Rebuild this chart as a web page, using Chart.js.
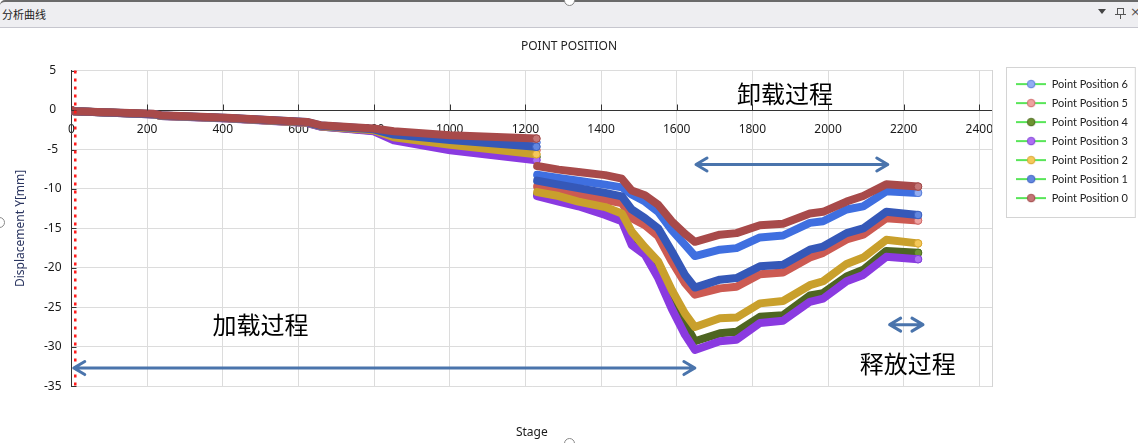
<!DOCTYPE html>
<html>
<head>
<meta charset="utf-8">
<script src="https://cdn.jsdelivr.net/npm/chart.js@4.4.1/dist/chart.umd.min.js"></script>
<style>
    html, body { margin: 0; padding: 0; background: #fff; overflow: hidden; }
    #wrap { position: relative; width: 1138px; height: 443px; }
    #chart { position: absolute; left: 0; top: 0; }
    #bar {
        position: absolute; left: 0; top: 0; width: 1138px; height: 25px;
        background: #eeeef1; border-top: 2px solid #6a6a6a; border-bottom: 1px solid #c6c6ce;
        border-top-left-radius: 5px;
        font: 11px 'Noto Sans CJK SC', sans-serif; color: #222;
    }
    #bar .name { position: absolute; left: 2px; top: 4px; }
    #bar .drop { position: absolute; left: 1098px; top: 7px; width: 0; height: 0;
        border-left: 4px solid transparent; border-right: 4px solid transparent; border-top: 5px solid #444; }
    #bar .pin { position: absolute; left: 1117px; top: 6px; width: 5px; height: 5px; border: 1px solid #555; border-bottom: none; }
    #bar .pin:after { content: ''; position: absolute; left: -3px; top: 5px; width: 11px; height: 1px; background: #555; }
    #bar .pin:before { content: ''; position: absolute; left: 2px; top: 5px; width: 1px; height: 5px; background: #555; }
    #bar .close { position: absolute; left: 1130px; top: 2px; font: 13px 'DejaVu Sans', sans-serif; color: #555; }
    .grip { position: absolute; width: 9px; height: 9px; border-radius: 50%; background: #fff; border: 1px solid #888; }
</style>
</head>
<body>
<div id="wrap">
    <canvas id="chart" width="1138" height="443"></canvas>
    <div id="bar"><span class="name">分析曲线</span><span class="drop"></span><span class="pin"></span><span class="close">×</span></div>
    <div class="grip" style="left:564px;top:-5px;"></div>
    <div class="grip" style="left:-6px;top:217px;"></div>
    <div class="grip" style="left:564px;top:438px;"></div>
</div>
<script>
//#region Data

const stages = [0, 7, 218, 236, 412, 623, 658, 799, 852, 1001, 1229,
    1231, 1288, 1340, 1411, 1455, 1481, 1516, 1551, 1587, 1622, 1648,
    1714, 1758, 1820, 1881, 1952, 1987, 2049, 2093, 2154, 2238];

const pp0 = [0, -0.14, -0.48, -0.65, -0.99, -1.5, -1.92, -2.34, -2.68, -3.19, -3.62,
    -7.1, -7.55, -7.85, -8.25, -8.7, -10.2, -10.8, -12.0, -14.1, -15.7, -16.7,
    -15.8, -15.6, -14.6, -14.4, -13.1, -12.9, -11.6, -10.9, -9.4, -9.7];
const pp1 = [0, -0.15, -0.52, -0.7, -1.02, -1.55, -2.0, -2.45, -3.1, -3.8, -4.65,
    -8.95, -9.45, -9.9, -10.5, -10.95, -12.6, -13.7, -15.0, -17.9, -20.9, -22.5,
    -21.5, -21.3, -19.8, -19.6, -17.7, -17.3, -15.6, -15.0, -12.9, -13.3];
const pp2 = [0, -0.15, -0.54, -0.73, -1.04, -1.6, -2.05, -2.55, -3.45, -4.4, -5.6,
    -10.4, -10.9, -11.6, -12.3, -13.1, -15.4, -17.4, -19.2, -22.8, -25.8, -27.5,
    -26.4, -26.3, -24.5, -24.2, -22.2, -21.7, -19.5, -18.7, -16.45, -16.9];
const pp3 = [0, -0.16, -0.56, -0.75, -1.06, -1.65, -2.1, -2.7, -3.85, -5.1, -6.35,
    -10.9, -11.6, -12.2, -13.3, -14.1, -17.1, -18.35, -21.3, -25.2, -28.5, -30.4,
    -29.3, -29.1, -27.0, -26.7, -24.3, -23.9, -21.7, -20.9, -18.6, -18.9];
const pp4 = [0, -0.15, -0.55, -0.74, -1.05, -1.62, -2.08, -2.62, -3.65, -4.75, -5.95,
    -10.7, -11.3, -11.9, -12.8, -13.6, -16.3, -17.9, -20.3, -24.0, -27.0, -29.3,
    -28.3, -28.1, -26.2, -26.0, -23.5, -23.2, -21.1, -20.25, -17.85, -18.1];
const pp5 = [0, -0.15, -0.53, -0.72, -1.03, -1.58, -2.03, -2.5, -3.3, -4.1, -5.1,
    -9.67, -10.2, -10.65, -11.4, -11.8, -13.7, -14.6, -16.0, -19.2, -21.95, -23.4,
    -22.6, -22.4, -20.8, -20.6, -18.7, -18.1, -16.4, -15.8, -13.7, -14.0];
const pp6 = [0, -0.14, -0.5, -0.68, -1.0, -1.52, -1.95, -2.4, -2.85, -3.45, -4.1,
    -8.2, -8.6, -8.95, -9.45, -9.8, -10.7, -11.6, -12.9, -15.2, -17.1, -18.5,
    -17.7, -17.5, -16.15, -15.9, -14.3, -14.1, -12.6, -12.2, -10.3, -10.5];

const seriesNames = ['Point Position 0', 'Point Position 1', 'Point Position 2', 'Point Position 3',
    'Point Position 4', 'Point Position 5', 'Point Position 6'];
const seriesValues = [pp0, pp1, pp2, pp3, pp4, pp5, pp6];

// index of the last loading point (the curves jump after it)
const loadEndIndex = 10;

const xTicks = [0, 200, 400, 600, 800, 1000, 1200, 1400, 1600, 1800, 2000, 2200, 2400];

// annotations (in stage / mm units)
const phaseLabels = ['加载过程', '卸载过程', '释放过程'];
const phaseLabelX = [500, 1886, 2211];
const phaseLabelY = [-27.2, 2.0, -32.2];
const arrowStart = [6, 1651, 2163];
const arrowEnd = [1648, 2158, 2251];
const arrowY = [-32.7, -6.9, -27.2];
const markerStage = 10;

//#endregion

//#region Styles

const lineColors = ['#a84a4a', '#3558b8', '#c9a02c', '#8a3ae0', '#4e6522', '#cc5a52', '#3f6fe0'];
const markerFill = ['#c47676', '#6287e0', '#f5c85a', '#ad70f2', '#6e9232', '#eea2a0', '#93adf2'];
const markerEdge = ['#a04848', '#3f62c0', '#d8a530', '#8040d8', '#4a6a1e', '#d06a6a', '#5a7fd8'];

// Legend icon: green line with a round marker.
function makeLegendIcon(i) {
    const c = document.createElement('canvas');
    c.width = 30;
    c.height = 10;
    const g = c.getContext('2d');
    g.strokeStyle = '#22dd22';
    g.lineWidth = 1.5;
    g.beginPath();
    g.moveTo(0, 5);
    g.lineTo(30, 5);
    g.stroke();
    g.fillStyle = markerFill[i];
    g.strokeStyle = markerEdge[i];
    g.lineWidth = 1;
    g.beginPath();
    g.arc(15, 5, 3.8, 0, Math.PI * 2);
    g.fill();
    g.stroke();
    return c;
}
const legendIcons = seriesNames.map((n, i) => makeLegendIcon(i));

//#endregion

//#region Plugins

function drawArrow(ctx, x1, x2, y) {
    const len = 11, half = 6.5;
    ctx.beginPath();
    ctx.moveTo(x1, y);
    ctx.lineTo(x2, y);
    ctx.moveTo(x1 + len, y - half);
    ctx.lineTo(x1, y);
    ctx.lineTo(x1 + len, y + half);
    ctx.moveTo(x2 - len, y - half);
    ctx.lineTo(x2, y);
    ctx.lineTo(x2 - len, y + half);
    ctx.stroke();
}

const annotationPlugin = {
    id: 'annotations',
    afterDatasetsDraw(chart) {
        const { ctx, scales: { x, y } } = chart;
        ctx.save();

        // small tick marks on the axes
        ctx.strokeStyle = '#333';
        ctx.lineWidth = 1;
        const y0 = Math.round(y.getPixelForValue(0)) + 0.5;
        const x0 = Math.round(x.getPixelForValue(0)) + 0.5;
        ctx.beginPath();
        xTicks.forEach(v => {
            const px = Math.round(x.getPixelForValue(v)) + 0.5;
            ctx.moveTo(px, y0);
            ctx.lineTo(px, y0 - 6);
        });
        for (let v = -35; v <= 5; v += 5) {
            const py = Math.round(y.getPixelForValue(v)) + 0.5;
            ctx.moveTo(x0, py);
            ctx.lineTo(x0 + 5, py);
        }
        ctx.stroke();

        // red dotted marker line
        ctx.strokeStyle = '#ff1a1a';
        ctx.lineWidth = 2.5;
        ctx.setLineDash([3, 5]);
        const mx = x.getPixelForValue(markerStage);
        ctx.beginPath();
        ctx.moveTo(mx, y.top);
        ctx.lineTo(mx, y.bottom);
        ctx.stroke();
        ctx.setLineDash([]);

        // arrows
        ctx.strokeStyle = '#4a74ac';
        ctx.lineWidth = 3;
        ctx.lineCap = 'round';
        ctx.lineJoin = 'round';
        arrowStart.forEach((s, i) => {
            drawArrow(ctx, x.getPixelForValue(s), x.getPixelForValue(arrowEnd[i]), y.getPixelForValue(arrowY[i]));
        });

        // phase labels
        ctx.fillStyle = '#000';
        ctx.font = "24px 'Noto Sans CJK SC'";
        ctx.textAlign = 'center';
        ctx.textBaseline = 'middle';
        phaseLabels.forEach((t, i) => {
            ctx.fillText(t, x.getPixelForValue(phaseLabelX[i]), y.getPixelForValue(phaseLabelY[i]));
        });
        ctx.restore();
    },
    afterDraw(chart) {
        // frame round the legend
        const boxes = chart.legend.legendHitBoxes;
        if (!boxes || !boxes.length) return;
        const ctx = chart.ctx;
        const top = Math.min(...boxes.map(b => b.top)) - 12;
        const bottom = Math.max(...boxes.map(b => b.top + b.height)) + 13;
        ctx.save();
        ctx.strokeStyle = '#d4d4d4';
        ctx.lineWidth = 1;
        ctx.strokeRect(Math.round(chart.legend.left) - 1.5, Math.round(top) + 0.5,
            chart.width - chart.legend.left - 1, Math.round(bottom - top));
        ctx.restore();
    }
};

//#endregion

//#region Chart

Chart.defaults.font.family = "'Noto Sans', sans-serif";
Chart.defaults.color = '#1a1a1a';

const datasets = seriesNames.map((name, i) => ({
    label: name,
    data: stages.map((s, k) => ({ x: s, y: seriesValues[i][k] })),
    borderColor: lineColors[i],
    borderWidth: 8,
    borderJoinStyle: 'round',
    borderCapStyle: 'round',
    tension: 0,
    pointRadius: ctx => (ctx.dataIndex === loadEndIndex || ctx.dataIndex === stages.length - 1) ? 3.8 : 0,
    pointBackgroundColor: markerFill[i],
    pointBorderColor: markerEdge[i],
    pointBorderWidth: 1,
    segment: {
        borderColor: ctx => ctx.p0DataIndex === loadEndIndex ? 'rgba(0,0,0,0)' : undefined
    }
}));

const gridColor = '#dcdcdc';

const config = {
    type: 'line',
    data: { datasets: datasets },
    options: {
        responsive: false,
        animation: false,
        events: [],
        layout: { padding: { top: 28, left: 0, right: 0, bottom: 0 } },
        plugins: {
            title: {
                display: true,
                text: 'POINT POSITION',
                color: '#222',
                font: { size: 12, weight: 'normal' },
                padding: { top: 11.5, bottom: 16.7 }
            },
            legend: {
                position: 'right',
                align: 'start',
                fullSize: false,
                reverse: true,
                labels: {
                    usePointStyle: true,
                    pointStyleWidth: 30,
                    padding: 8,
                    color: '#222',
                    font: { family: 'Lato', size: 11 },
                    generateLabels: chart => chart.data.datasets.map((ds, i) => ({
                        text: ds.label,
                        pointStyle: legendIcons[i],
                        datasetIndex: i,
                        hidden: false,
                        lineWidth: 0,
                        fontColor: '#222'
                    }))
                }
            },
            tooltip: { enabled: false }
        },
        scales: {
            x: {
                type: 'linear',
                position: 'bottom',
                min: 0,
                max: 2434,
                afterBuildTicks: s => { s.ticks = xTicks.map(v => ({ value: v })); },
                ticks: { display: false },
                grid: { color: gridColor, drawTicks: false },
                border: { display: false },
                title: {
                    display: true,
                    text: 'Stage',
                    color: '#1a1a1a',
                    font: { size: 12 },
                    padding: { top: 39.4, bottom: 3 }
                }
            },
            x2: {
                type: 'linear',
                axis: 'x',
                position: { y: 0 },
                min: 0,
                max: 2434,
                afterBuildTicks: s => { s.ticks = xTicks.map(v => ({ value: v })); },
                ticks: {
                    autoSkip: false, maxRotation: 0, padding: 12, font: { size: 12 }, color: '#1a1a1a',
                    callback: v => String(v)
                },
                grid: { display: false, drawTicks: false },
                border: { display: true, color: '#333', width: 1 }
            },
            y: {
                type: 'linear',
                position: 'left',
                min: -35,
                max: 5,
                ticks: { stepSize: 5, padding: 10, crossAlign: 'center', font: { size: 12 }, color: '#1a1a1a' },
                grid: { color: gridColor, drawTicks: false },
                border: { display: true, color: '#333', width: 1 },
                title: {
                    display: true,
                    text: 'Displacement Y[mm]',
                    color: '#2a3560',
                    font: { size: 12 },
                    padding: { top: 13.5, bottom: 6 }
                }
            },
            y2: {
                type: 'linear',
                position: 'right',
                min: -35,
                max: 5,
                ticks: { display: false },
                grid: { drawOnChartArea: false, drawTicks: false },
                border: { display: true, color: '#d4d4d4', width: 1 },
                afterFit: s => { s.width = 16; }
            }
        }
    },
    plugins: [annotationPlugin]
};

new Chart(document.getElementById('chart'), config);

//#endregion
</script>
</body>
</html>
